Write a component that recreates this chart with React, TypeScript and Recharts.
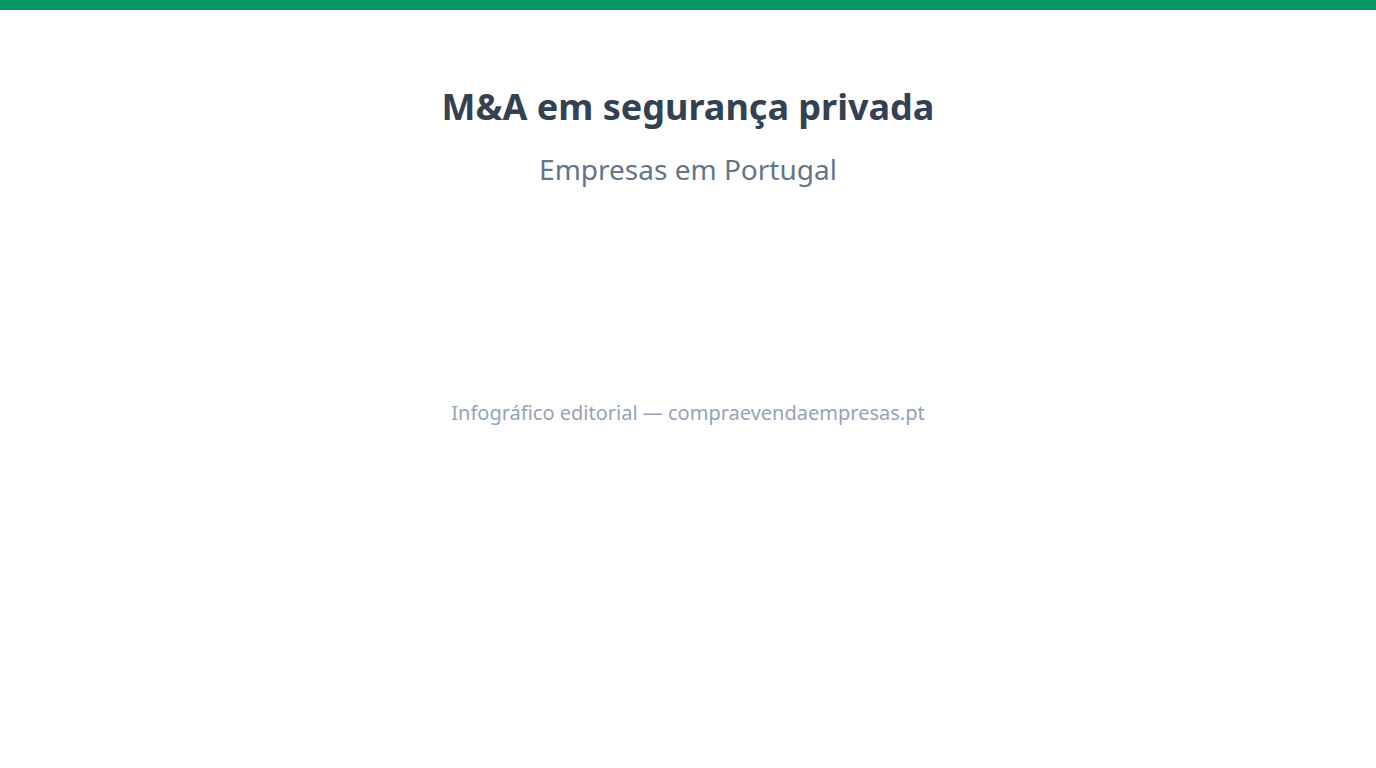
import { BarChart, Bar, XAxis, YAxis } from 'recharts';

// The reference shows no marks in the plot area: the series is empty.
const categories: string[] = [];
const dealCounts: number[] = [];

const rows = categories.map((name, i) => ({ name, deals: dealCounts[i] }));

const FONT = '"Noto Sans", "Open Sans", sans-serif';

export default function App() {
  return (
    <div style={{ width: 1376, height: 768, background: '#ffffff', fontFamily: FONT, position: 'relative' }}>
      <style>{'body{margin:0}'}</style>
      <div style={{ height: 10, background: '#059669' }} />
      <div
        style={{
          marginTop: 75,
          height: 44,
          lineHeight: '44px',
          textAlign: 'center',
          fontSize: 36,
          fontWeight: 700,
          color: '#334155',
        }}
      >
        M&amp;A em segurança privada
      </div>
      <div
        style={{
          marginTop: 22,
          height: 36,
          lineHeight: '36px',
          textAlign: 'center',
          fontSize: 28,
          color: '#64748b',
        }}
      >
        Empresas em Portugal
      </div>
      <div style={{ height: 212 }}>
        <BarChart width={1376} height={212} data={rows}>
          <XAxis dataKey="name" hide />
          <YAxis hide />
          <Bar dataKey="deals" fill="#059669" isAnimationActive={false} />
        </BarChart>
      </div>
      <div
        style={{
          height: 28,
          lineHeight: '28px',
          textAlign: 'center',
          fontSize: 20,
          color: '#94a3b8',
        }}
      >
        Infográfico editorial — compraevendaempresas.pt
      </div>
    </div>
  );
}
